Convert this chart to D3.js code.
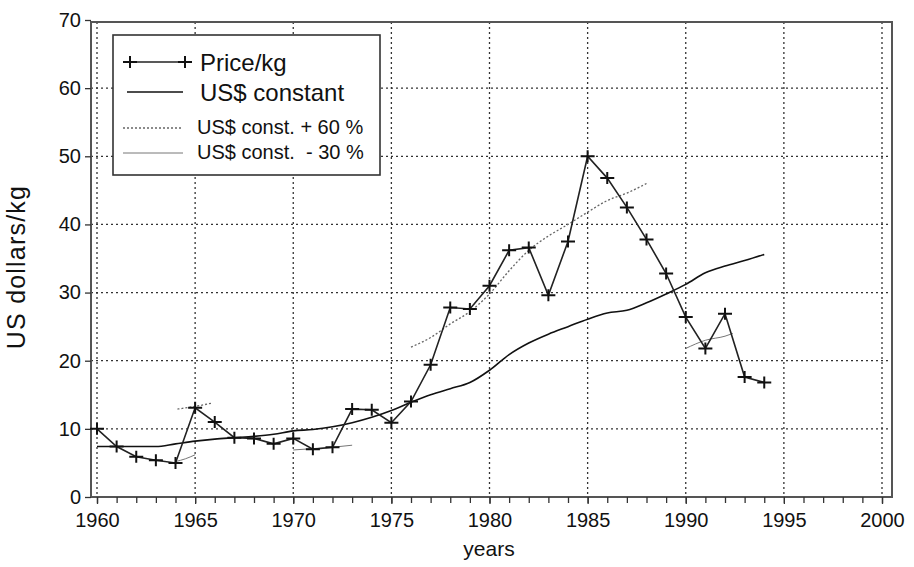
<!DOCTYPE html>
<html>
<head>
    <meta charset="utf-8">
    <title>Price per kg</title>
    <script src="https://d3js.org/d3.v7.min.js"></script>
    <style>
        body { margin: 0; background: #fff; }
        svg { display: block; font-family: "Liberation Sans", Arial, sans-serif; }
    </style>
</head>
<body>
<script>
// price per kg, one value per year
var years = [1960, 1961, 1962, 1963, 1964, 1965, 1966, 1967, 1968, 1969,
             1970, 1971, 1972, 1973, 1974, 1975, 1976, 1977, 1978, 1979,
             1980, 1981, 1982, 1983, 1984, 1985, 1986, 1987, 1988, 1989,
             1990, 1991, 1992, 1993, 1994];
var price = [10.0, 7.4, 5.9, 5.4, 5.0, 13.1, 11.0, 8.7, 8.6, 7.8,
             8.6, 7.0, 7.3, 12.9, 12.8, 10.9, 14.0, 19.4, 27.8, 27.6,
             31.0, 36.2, 36.6, 29.6, 37.5, 50.0, 46.8, 42.5, 37.8, 32.8,
             26.4, 21.8, 26.9, 17.6, 16.8];
// US$ constant
var constant = [7.4, 7.4, 7.4, 7.4, 7.8, 8.2, 8.5, 8.7, 8.9, 9.2,
                9.7, 9.9, 10.3, 10.9, 11.7, 12.7, 13.9, 15.0, 15.9, 16.8,
                18.6, 20.9, 22.6, 23.9, 25.0, 26.1, 27.0, 27.4, 28.5, 29.8,
                31.2, 32.9, 33.9, 34.7, 35.6];
// short pieces of the +60 % line
var plusYears1 = [1964.1, 1965, 1965.9];
var plusVals1  = [12.9, 13.3, 13.8];
var plusYears2 = [1976, 1977, 1978, 1979, 1980, 1981, 1982, 1983, 1984, 1985, 1986, 1987, 1988];
var plusVals2  = [22.0, 23.4, 25.4, 27.2, 29.8, 33.2, 36.2, 38.3, 40.0, 41.8, 43.5, 44.6, 46.0];
// short pieces of the -30 % line
var minusYears1 = [1964, 1964.5, 1965];
var minusVals1  = [5.2, 5.6, 6.2];
var minusYears2 = [1970, 1971, 1972, 1973];
var minusVals2  = [6.9, 7.1, 7.3, 7.6];
var minusYears3 = [1990, 1991, 1992, 1992.4];
var minusVals3  = [21.8, 23.0, 23.6, 24.0];

var yTicks = [0, 10, 20, 30, 40, 50, 60, 70];
var xTicks = [1960, 1965, 1970, 1975, 1980, 1985, 1990, 1995, 2000];
var legendLabels = ["Price/kg", "US$ constant", "US$ const. + 60 %", "US$ const.  - 30 %"];

var width = 914, height = 567;
var frame = {left: 91, right: 892, top: 22, bottom: 497};

var x = d3.scaleLinear().domain([1960, 2000]).range([97, 882]);
var y = d3.scaleLinear().domain([0, 70]).range([497, 20]);

var svg = d3.select("body").append("svg")
    .attr("width", width)
    .attr("height", height);

function pairs(xs, ys) {
    return xs.map(function(d, i) { return [d, ys[i]]; });
}

// dotted grid
svg.append("g").selectAll("line")
    .data(xTicks)
    .enter().append("line")
    .attr("x1", function(d) { return x(d); })
    .attr("x2", function(d) { return x(d); })
    .attr("y1", frame.top)
    .attr("y2", frame.bottom)
    .attr("stroke", "#333")
    .attr("stroke-width", 1.3)
    .attr("stroke-dasharray", "2,3");
svg.append("g").selectAll("line")
    .data(yTicks.slice(1, -1))
    .enter().append("line")
    .attr("x1", frame.left)
    .attr("x2", frame.right)
    .attr("y1", function(d) { return y(d); })
    .attr("y2", function(d) { return y(d); })
    .attr("stroke", "#333")
    .attr("stroke-width", 1.3)
    .attr("stroke-dasharray", "2,3");

// frame
svg.append("rect")
    .attr("x", frame.left)
    .attr("y", frame.top)
    .attr("width", frame.right - frame.left)
    .attr("height", frame.bottom - frame.top)
    .attr("fill", "none")
    .attr("stroke", "#555")
    .attr("stroke-width", 2);

// axes
var xMinor = d3.axisBottom(x).tickValues(d3.range(1960, 2001)).tickSize(6).tickFormat("");
svg.append("g").attr("transform", "translate(0," + frame.bottom + ")").call(xMinor)
    .call(function(g) { g.select(".domain").remove(); });
var xMajor = d3.axisBottom(x).tickValues(xTicks).tickSize(7).tickFormat(d3.format("d"));
var gx = svg.append("g").attr("transform", "translate(0," + frame.bottom + ")").call(xMajor);
gx.select(".domain").remove();
gx.selectAll("text").attr("y", 16).attr("font-size", 20).attr("fill", "#111")
    .attr("font-family", "Liberation Sans, Arial, sans-serif");

var yAxis = d3.axisLeft(y).tickValues(yTicks).tickSize(6).tickPadding(4);
var gy = svg.append("g").attr("transform", "translate(" + frame.left + ",0)").call(yAxis);
gy.select(".domain").remove();
gy.selectAll("text").attr("font-size", 20).attr("fill", "#111")
    .attr("font-family", "Liberation Sans, Arial, sans-serif");
svg.selectAll(".tick line").attr("stroke", "#333").attr("stroke-width", 1.3);

// axis titles
svg.append("text")
    .attr("transform", "translate(25,267) rotate(-90)")
    .attr("text-anchor", "middle")
    .attr("font-size", 25)
    .attr("letter-spacing", 1.2)
    .attr("fill", "#111")
    .text("US dollars/kg");
svg.append("text")
    .attr("x", 489).attr("y", 556)
    .attr("text-anchor", "middle")
    .attr("font-size", 21)
    .attr("fill", "#111")
    .text("years");

var line = d3.line().x(function(d) { return x(d[0]); }).y(function(d) { return y(d[1]); });
var smooth = d3.line().curve(d3.curveMonotoneX)
    .x(function(d) { return x(d[0]); }).y(function(d) { return y(d[1]); });

// +60 % (dotted grey) and -30 % (thin grey)
[pairs(plusYears1, plusVals1), pairs(plusYears2, plusVals2)].forEach(function(seg) {
    svg.append("path").attr("d", smooth(seg))
        .attr("fill", "none").attr("stroke", "#666").attr("stroke-width", 1.3)
        .attr("stroke-dasharray", "2,2");
});
[pairs(minusYears1, minusVals1), pairs(minusYears2, minusVals2), pairs(minusYears3, minusVals3)].forEach(function(seg) {
    svg.append("path").attr("d", smooth(seg))
        .attr("fill", "none").attr("stroke", "#777").attr("stroke-width", 1);
});

// US$ constant
svg.append("path").attr("d", smooth(pairs(years, constant)))
    .attr("fill", "none").attr("stroke", "#111").attr("stroke-width", 1.6);

// price/kg with + markers
var pricePts = pairs(years, price);
svg.append("path").attr("d", line(pricePts))
    .attr("fill", "none").attr("stroke", "#222").attr("stroke-width", 1.6);
var plus = "M-7,0H7M0,-6V6";
svg.append("g").selectAll("path")
    .data(pricePts)
    .enter().append("path")
    .attr("transform", function(d) { return "translate(" + x(d[0]) + "," + y(d[1]) + ")"; })
    .attr("d", plus)
    .attr("stroke", "#111").attr("stroke-width", 2);

// legend
var lg = svg.append("g");
lg.append("rect")
    .attr("x", 113).attr("y", 35).attr("width", 267).attr("height", 140)
    .attr("fill", "#fff").attr("stroke", "#333").attr("stroke-width", 1.6);
var rowsY = [62, 92, 128, 153];
lg.append("line").attr("x1", 123).attr("x2", 189).attr("y1", rowsY[0]).attr("y2", rowsY[0])
    .attr("stroke", "#222").attr("stroke-width", 1.6);
[130, 185].forEach(function(px) {
    lg.append("path").attr("transform", "translate(" + px + "," + rowsY[0] + ")")
        .attr("d", plus).attr("stroke", "#111").attr("stroke-width", 2);
});
lg.append("line").attr("x1", 127).attr("x2", 183).attr("y1", rowsY[1]).attr("y2", rowsY[1])
    .attr("stroke", "#111").attr("stroke-width", 1.6);
lg.append("line").attr("x1", 123).attr("x2", 183).attr("y1", rowsY[2]).attr("y2", rowsY[2])
    .attr("stroke", "#666").attr("stroke-width", 1.3).attr("stroke-dasharray", "2,2");
lg.append("line").attr("x1", 123).attr("x2", 183).attr("y1", rowsY[3]).attr("y2", rowsY[3])
    .attr("stroke", "#777").attr("stroke-width", 1);
lg.selectAll("text.lab")
    .data(legendLabels)
    .enter().append("text")
    .attr("class", "lab")
    .attr("x", function(d, i) { return i < 2 ? 200 : 197; })
    .attr("y", function(d, i) { return rowsY[i] + (i < 2 ? 9 : 6); })
    .attr("font-size", function(d, i) { return i < 2 ? 24 : 20; })
    .attr("fill", "#111")
    .attr("xml:space", "preserve")
    .style("white-space", "pre")
    .text(function(d) { return d; });
</script>
</body>
</html>
